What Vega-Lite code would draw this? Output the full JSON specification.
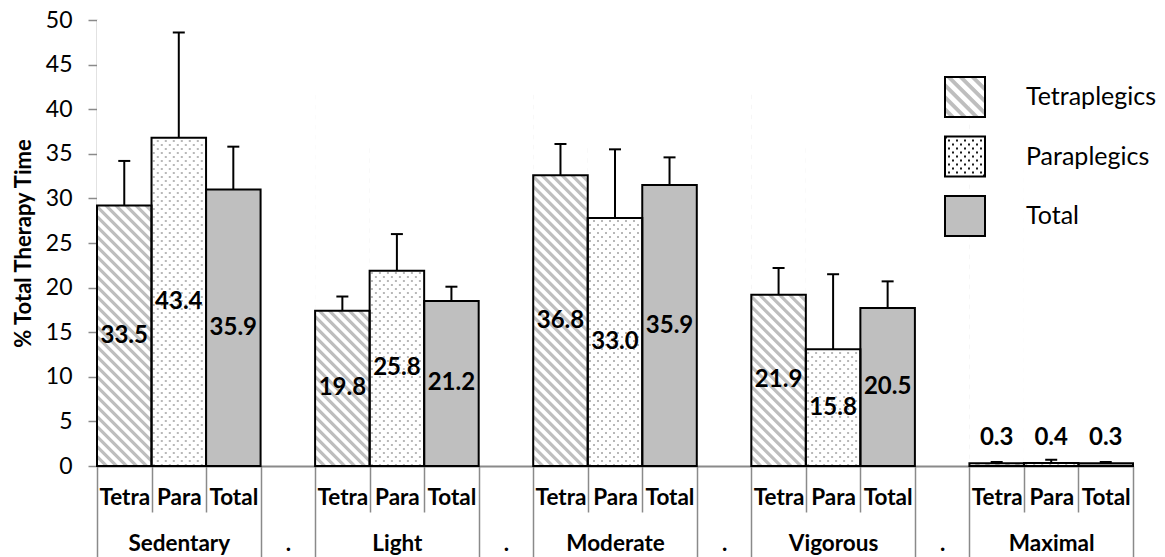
{
  "$schema": "https://vega.github.io/schema/vega-lite/v6.json",
  "width": 1036,
  "height": 446,
  "autosize": {"type": "none"},
  "padding": {"left": 97, "top": 20, "right": 32, "bottom": 91},
  "background": "white",
  "config": {
    "font": "Lato",
    "view": {"stroke": null},
    "axis": {"labelFont": "Lato", "titleFont": "Lato", "labelColor": "#000000", "titleColor": "#000000", "domainColor": "#8a8a8a", "tickColor": "#8a8a8a", "grid": false},
    "legend": {"labelFont": "Lato", "labelColor": "#000000"}
  },
  "data": {
    "values": [
      {"slot": "Sedentary|Tetra", "who": "Tetraplegics", "pct": 29.2, "err": 34.2, "label": 33.5},
      {"slot": "Sedentary|Para", "who": "Paraplegics", "pct": 36.8, "err": 48.6, "label": 43.4},
      {"slot": "Sedentary|Total", "who": "Total", "pct": 31.0, "err": 35.8, "label": 35.9},
      {"slot": "Light|Tetra", "who": "Tetraplegics", "pct": 17.4, "err": 19.0, "label": 19.8},
      {"slot": "Light|Para", "who": "Paraplegics", "pct": 21.9, "err": 26.0, "label": 25.8},
      {"slot": "Light|Total", "who": "Total", "pct": 18.5, "err": 20.1, "label": 21.2},
      {"slot": "Moderate|Tetra", "who": "Tetraplegics", "pct": 32.6, "err": 36.1, "label": 36.8},
      {"slot": "Moderate|Para", "who": "Paraplegics", "pct": 27.8, "err": 35.5, "label": 33.0},
      {"slot": "Moderate|Total", "who": "Total", "pct": 31.5, "err": 34.6, "label": 35.9},
      {"slot": "Vigorous|Tetra", "who": "Tetraplegics", "pct": 19.2, "err": 22.2, "label": 21.9},
      {"slot": "Vigorous|Para", "who": "Paraplegics", "pct": 13.1, "err": 21.5, "label": 15.8},
      {"slot": "Vigorous|Total", "who": "Total", "pct": 17.7, "err": 20.7, "label": 20.5},
      {"slot": "Maximal|Tetra", "who": "Tetraplegics", "pct": 0.3, "err": 0.45, "label": 0.3},
      {"slot": "Maximal|Para", "who": "Paraplegics", "pct": 0.35, "err": 0.7, "label": 0.4},
      {"slot": "Maximal|Total", "who": "Total", "pct": 0.3, "err": 0.45, "label": 0.3}
    ]
  },
  "transform": [{"calculate": "datum.pct / 2", "as": "mid"}],
  "encoding": {
    "x": {
      "field": "slot",
      "type": "nominal",
      "scale": {
        "domain": ["Sedentary|Tetra", "Sedentary|Para", "Sedentary|Total", "gap1", "Light|Tetra", "Light|Para", "Light|Total", "gap2", "Moderate|Tetra", "Moderate|Para", "Moderate|Total", "gap3", "Vigorous|Tetra", "Vigorous|Para", "Vigorous|Total", "gap4", "Maximal|Tetra", "Maximal|Para", "Maximal|Total"],
        "paddingInner": 0,
        "paddingOuter": 0
      },
      "axis": {
        "title": null,
        "labelAngle": 0,
        "labelOverlap": false,
        "labelFontWeight": "bold",
        "labelFontSize": 22.5,
        "labelLineHeight": 46,
        "labelBaseline": "top",
        "labelExpr": "test(/gap/, datum.value) ? ['', '.'] : test(/Para/, datum.value) ? [split(datum.value, '|')[1], split(datum.value, '|')[0]] : [split(datum.value, '|')[1], '']",
        "tickBand": "extent",
        "tickWidth": 1.5,
        "domainWidth": 2,
        "tickSize": {"condition": {"test": "!isString(datum.value) || test(/Total|gap/, datum.value)", "value": 91}, "value": 46},
        "labelPadding": {"condition": {"test": "!isString(datum.value) || test(/Total|gap/, datum.value)", "value": -71}, "value": -26}
      }
    }
  },
  "layer": [
    {
      "mark": {"type": "bar", "width": {"band": 1}},
      "encoding": {
        "y": {
          "field": "pct",
          "type": "quantitative",
          "title": "% Total Therapy Time",
          "scale": {"domain": [0, 50], "nice": false},
          "axis": {
            "values": [0, 5, 10, 15, 20, 25, 30, 35, 40, 45, 50],
            "titleFontSize": 22,
            "titleFontWeight": "bold",
            "titlePadding": 10,
            "labelFontSize": 23,
            "labelPadding": 16,
            "tickSize": 9,
            "tickWidth": 1.5,
            "domainWidth": 1.5
          }
        },
        "fill": {"condition": {"test": "datum.who === 'Total'", "value": "#bfbfbf"}, "value": "#ffffff"}
      }
    },
    {
      "transform": [{"filter": "datum.who === 'Tetraplegics'"}],
      "mark": {
        "type": "point",
        "shape": "M-27 3 l54 54 v-4.5 l-54 -54 z M-27 -7 l54 54 v-4.5 l-54 -54 z M-27 -17 l54 54 v-4.5 l-54 -54 z M-27 -27 l54 54 v-4.5 l-54 -54 z M-27 -37 l54 54 v-4.5 l-54 -54 z M-27 -47 l54 54 v-4.5 l-54 -54 z M-27 -57 l54 54 v-4.5 l-54 -54 z M-27 -67 l54 54 v-4.5 l-54 -54 z M-27 -77 l54 54 v-4.5 l-54 -54 z M-27 -87 l54 54 v-4.5 l-54 -54 z M-27 -97 l54 54 v-4.5 l-54 -54 z M-27 -107 l54 54 v-4.5 l-54 -54 z M-27 -117 l54 54 v-4.5 l-54 -54 z M-27 -127 l54 54 v-4.5 l-54 -54 z M-27 -137 l54 54 v-4.5 l-54 -54 z M-27 -147 l54 54 v-4.5 l-54 -54 z M-27 -157 l54 54 v-4.5 l-54 -54 z M-27 -167 l54 54 v-4.5 l-54 -54 z M-27 -177 l54 54 v-4.5 l-54 -54 z M-27 -187 l54 54 v-4.5 l-54 -54 z M-27 -197 l54 54 v-4.5 l-54 -54 z M-27 -207 l54 54 v-4.5 l-54 -54 z M-27 -217 l54 54 v-4.5 l-54 -54 z M-27 -227 l54 54 v-4.5 l-54 -54 z M-27 -237 l54 54 v-4.5 l-54 -54 z M-27 -247 l54 54 v-4.5 l-54 -54 z M-27 -257 l54 54 v-4.5 l-54 -54 z M-27 -267 l54 54 v-4.5 l-54 -54 z M-27 -277 l54 54 v-4.5 l-54 -54 z M-27 -287 l54 54 v-4.5 l-54 -54 z M-27 -297 l54 54 v-4.5 l-54 -54 z M-27 -307 l54 54 v-4.5 l-54 -54 z M-27 -317 l54 54 v-4.5 l-54 -54 z M-27 -327 l54 54 v-4.5 l-54 -54 z M-27 -337 l54 54 v-4.5 l-54 -54 z M-27 -347 l54 54 v-4.5 l-54 -54 z M-27 -357 l54 54 v-4.5 l-54 -54 z M-27 -367 l54 54 v-4.5 l-54 -54 z",
        "size": 4,
        "filled": true,
        "fill": "#bebebe",
        "strokeWidth": 0,
        "opacity": 1,
        "clip": true
      },
      "encoding": {"y": {"datum": 0, "type": "quantitative", "title": "% Total Therapy Time"}}
    },
    {
      "transform": [{"filter": "datum.who === 'Paraplegics'"}],
      "mark": {
        "type": "point",
        "shape": "M-25 0 V-344 M-21 -4 V-348 M-17 0 V-344 M-13 -4 V-348 M-9 0 V-344 M-5 -4 V-348 M-1 0 V-344 M3 -4 V-348 M7 0 V-344 M11 -4 V-348 M15 0 V-344 M19 -4 V-348 M23 0 V-344",
        "size": 4,
        "filled": false,
        "fill": "transparent",
        "stroke": "#b8b8b8",
        "strokeWidth": 2,
        "strokeDash": [2, 6],
        "strokeCap": "butt",
        "opacity": 1,
        "clip": true
      },
      "encoding": {"y": {"datum": 0, "type": "quantitative", "title": "% Total Therapy Time"}}
    },
    {
      "transform": [{"filter": "datum.who !== 'Total'"}],
      "mark": {"type": "bar", "width": {"band": 1}, "fill": "#ffffff"},
      "encoding": {
        "y": {"field": "pct", "type": "quantitative", "title": "% Total Therapy Time"},
        "y2": {"datum": 50}
      }
    },
    {
      "mark": {"type": "bar", "width": {"band": 1}, "fill": "transparent", "stroke": "#000000", "strokeWidth": 2},
      "encoding": {"y": {"field": "pct", "type": "quantitative", "title": "% Total Therapy Time"}}
    },
    {
      "mark": {"type": "rule", "stroke": "#000000", "strokeWidth": 2},
      "encoding": {
        "y": {"field": "pct", "type": "quantitative", "title": "% Total Therapy Time"},
        "y2": {"field": "err"}
      }
    },
    {
      "mark": {"type": "tick", "color": "#000000", "size": 12, "thickness": 2, "opacity": 1},
      "encoding": {"y": {"field": "err", "type": "quantitative", "title": "% Total Therapy Time"}}
    },
    {
      "transform": [{"filter": "datum.pct >= 2"}],
      "mark": {"type": "text", "font": "Lato", "fontWeight": "bold", "fontSize": 24, "color": "#000000", "baseline": "middle"},
      "encoding": {
        "y": {"field": "mid", "type": "quantitative", "title": "% Total Therapy Time"},
        "text": {"field": "label", "type": "quantitative", "format": ".1f"}
      }
    },
    {
      "transform": [{"filter": "datum.pct < 2"}],
      "mark": {"type": "text", "font": "Lato", "fontWeight": "bold", "fontSize": 24, "color": "#000000", "baseline": "middle", "dy": -25},
      "encoding": {
        "y": {"field": "pct", "type": "quantitative", "title": "% Total Therapy Time"},
        "text": {"field": "label", "type": "quantitative", "format": ".1f"}
      }
    },
    {
      "mark": {"type": "point", "filled": true, "opacity": 0},
      "encoding": {
        "y": {"field": "pct", "type": "quantitative", "title": "% Total Therapy Time"},
        "shape": {
          "field": "who",
          "type": "nominal",
          "scale": {
            "domain": ["Tetraplegics", "Paraplegics", "Total"],
            "range": [
              "M-1 0.75 L-0.75 1 L-0.48 1 L-1 0.48 Z M-1 0.15 L-0.15 1 L0.12 1 L-1 -0.12 Z M-1 -0.45 L0.45 1 L0.72 1 L-1 -0.72 Z M-0.95 -1 L-0.68 -1 L1 0.68 L1 0.95 Z M-0.35 -1 L-0.08 -1 L1 0.08 L1 0.35 Z M0.25 -1 L0.52 -1 L1 -0.52 L1 -0.25 Z",
              "M-1 -1 h0.1 v0.1 h-0.1 z M0.9 0.9 h0.1 v0.1 h-0.1 z M-0.85 -0.85 h0.1 v0.1 h-0.1 z m0.4 0 h0.1 v0.1 h-0.1 z m0.4 0 h0.1 v0.1 h-0.1 z m0.4 0 h0.1 v0.1 h-0.1 z m0.4 0 h0.1 v0.1 h-0.1 z M-0.65 -0.65 h0.1 v0.1 h-0.1 z m0.4 0 h0.1 v0.1 h-0.1 z m0.4 0 h0.1 v0.1 h-0.1 z m0.4 0 h0.1 v0.1 h-0.1 z M-0.85 -0.45 h0.1 v0.1 h-0.1 z m0.4 0 h0.1 v0.1 h-0.1 z m0.4 0 h0.1 v0.1 h-0.1 z m0.4 0 h0.1 v0.1 h-0.1 z m0.4 0 h0.1 v0.1 h-0.1 z M-0.65 -0.25 h0.1 v0.1 h-0.1 z m0.4 0 h0.1 v0.1 h-0.1 z m0.4 0 h0.1 v0.1 h-0.1 z m0.4 0 h0.1 v0.1 h-0.1 z M-0.85 -0.05 h0.1 v0.1 h-0.1 z m0.4 0 h0.1 v0.1 h-0.1 z m0.4 0 h0.1 v0.1 h-0.1 z m0.4 0 h0.1 v0.1 h-0.1 z m0.4 0 h0.1 v0.1 h-0.1 z M-0.65 0.15 h0.1 v0.1 h-0.1 z m0.4 0 h0.1 v0.1 h-0.1 z m0.4 0 h0.1 v0.1 h-0.1 z m0.4 0 h0.1 v0.1 h-0.1 z M-0.85 0.35 h0.1 v0.1 h-0.1 z m0.4 0 h0.1 v0.1 h-0.1 z m0.4 0 h0.1 v0.1 h-0.1 z m0.4 0 h0.1 v0.1 h-0.1 z m0.4 0 h0.1 v0.1 h-0.1 z M-0.65 0.55 h0.1 v0.1 h-0.1 z m0.4 0 h0.1 v0.1 h-0.1 z m0.4 0 h0.1 v0.1 h-0.1 z m0.4 0 h0.1 v0.1 h-0.1 z M-0.85 0.75 h0.1 v0.1 h-0.1 z m0.4 0 h0.1 v0.1 h-0.1 z m0.4 0 h0.1 v0.1 h-0.1 z m0.4 0 h0.1 v0.1 h-0.1 z m0.4 0 h0.1 v0.1 h-0.1 z",
              "M-1 -1 L1 -1 L1 1 L-1 1 Z"
            ]
          },
          "legend": {"title": null, "orient": "none", "legendX": 847, "legendY": 56, "padding": 0, "symbolSize": 1600, "symbolStrokeWidth": 2, "symbolStrokeColor": "transparent", "symbolOpacity": 1, "labelFontSize": 25, "labelOffset": 40, "rowPadding": 11.5}
        },
        "fill": {
          "field": "who",
          "type": "nominal",
          "scale": {"domain": ["Tetraplegics", "Paraplegics", "Total"], "range": ["#bebebe", "#1a1a1a", "#bfbfbf"]},
          "legend": {"title": null, "orient": "none", "legendX": 847, "legendY": 56, "padding": 0, "symbolSize": 1600, "symbolStrokeWidth": 2, "symbolStrokeColor": "transparent", "symbolOpacity": 1, "labelFontSize": 25, "labelOffset": 40, "rowPadding": 11.5}
        }
      }
    },
    {
      "mark": {"type": "point", "filled": false, "opacity": 0},
      "encoding": {
        "y": {"field": "pct", "type": "quantitative", "title": "% Total Therapy Time"},
        "stroke": {
          "field": "who",
          "type": "nominal",
          "sort": ["Tetraplegics", "Paraplegics", "Total"],
          "scale": {"range": ["#000000", "#000000", "#000000"]},
          "legend": {"title": null, "orient": "none", "legendX": 847, "legendY": 56, "padding": 0, "symbolType": "square", "symbolSize": 1600, "symbolStrokeWidth": 2, "symbolFillColor": "transparent", "symbolOpacity": 1, "labelFontSize": 25, "labelOffset": 40, "labelExpr": "''", "rowPadding": 11.5}
        }
      }
    }
  ]
}
